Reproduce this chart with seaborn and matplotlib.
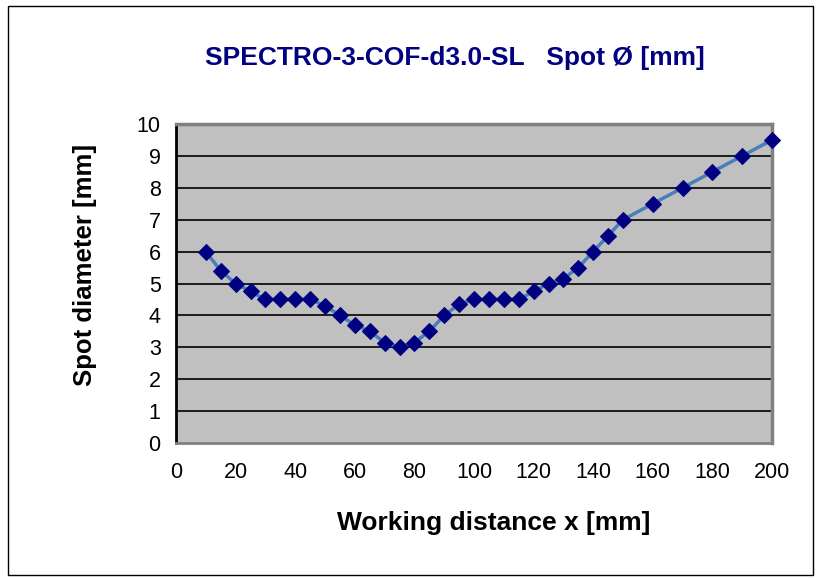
import matplotlib
matplotlib.use("Agg")
import matplotlib.pyplot as plt
import seaborn as sns
import pandas as pd
from matplotlib.patches import Rectangle

x_mm = [10, 15, 20, 25, 30, 35, 40, 45, 50, 55, 60, 65, 70, 75, 80, 85, 90, 95,
        100, 105, 110, 115, 120, 125, 130, 135, 140, 145, 150, 160, 170, 180, 190, 200]
spot_mm = [6.0, 5.4, 5.0, 4.75, 4.5, 4.5, 4.5, 4.5, 4.3, 4.0, 3.7, 3.5, 3.15, 3.0,
           3.15, 3.5, 4.0, 4.35, 4.5, 4.5, 4.5, 4.5, 4.75, 5.0, 5.15, 5.5, 6.0, 6.5,
           7.0, 7.5, 8.0, 8.5, 9.0, 9.5]
x_ticks = list(range(0, 201, 20))
y_ticks = list(range(0, 11))

df = pd.DataFrame({"x": x_mm, "y": spot_mm})

sns.set_style("white")
plt.rcParams['font.family'] = ['Liberation Sans', 'DejaVu Sans']
plt.rcParams['text.color'] = 'black'
plt.rcParams['axes.labelcolor'] = 'black'

fig = plt.figure(figsize=(8.21, 5.78), dpi=100)
ax = fig.add_axes([176/821, 1-443/578, (772-176)/821, (443-124)/578])
ax.set_facecolor("#C0C0C0")

for yv in y_ticks[1:]:
    ax.axhline(yv, color="black", lw=1.2, zorder=1)

sns.lineplot(data=df, x="x", y="y", ax=ax, color="#4A7EBB", lw=2.5,
             marker="D", markersize=8.5, markerfacecolor="#000080",
             markeredgecolor="#000080", zorder=3, clip_on=False)

ax.set_xlim(0, 200)
ax.set_ylim(0, 10)
ax.set_xticks(x_ticks)
ax.set_yticks(y_ticks)
ax.tick_params(axis="both", labelsize=15.5, labelcolor="black")
ax.tick_params(axis="y", length=5, width=1, direction="out", color="black", pad=6)
ax.tick_params(axis="x", length=5, width=1, direction="out", color="#A9C4E6", pad=9)

for side in ["top", "right", "bottom"]:
    ax.spines[side].set_visible(True)
    ax.spines[side].set_color("#808080")
    ax.spines[side].set_linewidth(2.5)
ax.spines["left"].set_color("black")
ax.spines["left"].set_linewidth(2)
ax.spines["bottom"].set_linewidth(2)

ax.set_xlabel("Working distance x [mm]", fontsize=19, fontweight="bold", color="black")
ax.set_ylabel("Spot diameter [mm]", fontsize=18.5, fontweight="bold", color="black")
ax.xaxis.label.set_va("center")
ax.yaxis.label.set_va("center")
ax.xaxis.set_label_coords((494-176)/596, (443-523)/319)
ax.yaxis.set_label_coords((85-176)/596, (443-265)/319)

fig.text(455/821, 1-58/578, "SPECTRO-3-COF-d3.0-SL   Spot Ø [mm]", ha="center", va="center",
         fontsize=19, fontweight="bold", color="#000080")

fig.patches.append(Rectangle((8/821, 3/578), (813-8)/821, (572-3)/578, transform=fig.transFigure,
                             fill=False, edgecolor="black", lw=1))

fig.savefig("out.png", dpi=100)
